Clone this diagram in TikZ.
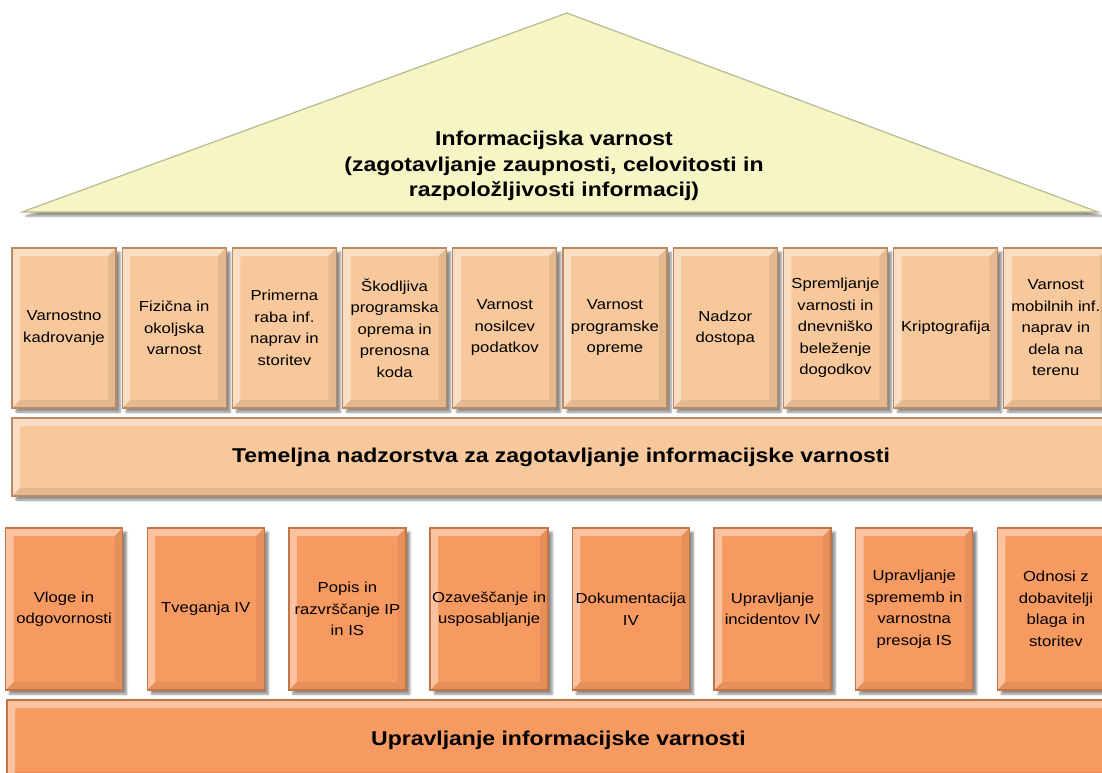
\documentclass[tikz,border=0pt]{standalone}
\usepackage{fontspec}
\setmainfont{Liberation Sans}
\newfontfamily\widesans[FakeStretch=1.15]{Liberation Sans}
\usetikzlibrary{shadows,shadows.blur}

\definecolor{roofyellow}{HTML}{F6F5C6}
\definecolor{roofline}{HTML}{B7BA8C}
\definecolor{peach}{HTML}{F7C89B}
\definecolor{peachline}{HTML}{B98A64}
\definecolor{carrot}{HTML}{F79A61}
\definecolor{carrotline}{HTML}{C27648}

% lighter band on top/left, darker band on bottom/right
\newcommand\bevel{%
  \fill[white,opacity=.4] (path picture bounding box.south west)
    -- (path picture bounding box.north west)
    -- (path picture bounding box.north east)
    -- ([xshift=-8pt,yshift=-8pt]path picture bounding box.north east)
    -- ([xshift=8pt,yshift=-8pt]path picture bounding box.north west)
    -- ([xshift=8pt,yshift=8pt]path picture bounding box.south west) -- cycle;
  \fill[black,opacity=.07] (path picture bounding box.south west)
    -- (path picture bounding box.south east)
    -- (path picture bounding box.north east)
    -- ([xshift=-8pt,yshift=-8pt]path picture bounding box.north east)
    -- ([xshift=-8pt,yshift=8pt]path picture bounding box.south east)
    -- ([xshift=8pt,yshift=8pt]path picture bounding box.south west) -- cycle;}

\begin{document}
\begin{tikzpicture}[x=1pt, y=-1pt,
    shade/.style = {blur shadow={shadow xshift=4pt, shadow yshift=-4pt,
                    shadow opacity=45, shadow blur steps=5}},
    roof/.style  = {draw=roofline, line width=1.2pt, fill=roofyellow, shade},
    ctrl/.style  = {draw=peachline, line width=1.3pt, fill=peach, shade,
                    minimum width=104pt, minimum height=160pt, inner sep=2pt,
                    align=center, font=\widesans\fontsize{14.5}{21.5}\selectfont,
                    path picture=\bevel},
    proc/.style  = {ctrl, draw=carrotline, fill=carrot,
                    minimum width=117pt, minimum height=162pt},
    bar/.style   = {ctrl, minimum height=78pt, minimum width=1098pt,
                    font=\widesans\fontsize{20}{24}\selectfont\bfseries},
    floor/.style = {bar, draw=carrotline, fill=carrot, minimum width=1103pt,
                    minimum height=80pt}]
  \useasboundingbox (0,0) rectangle (1102,773);
  \clip (0,0) rectangle (1102,773);

  % roof
  \draw[roof] (22,212) -- (567,13) -- (1098,212) -- cycle;
  \node[align=center, font=\widesans\fontsize{20}{25.5}\selectfont\bfseries] (goal) at (554,166)
    {Informacijska varnost\\(zagotavljanje zaupnosti, celovitosti in\\razpoložljivosti informacij)};

  % controls
  \node[ctrl] (c1) at (64,328) {Varnostno\\kadrovanje};
  \node[ctrl] (c2) at (174.2,328) {Fizična in\\okoljska\\varnost};
  \node[ctrl] (c3) at (284.4,328) {Primerna\\raba inf.\\naprav in\\storitev};
  \node[ctrl] (c4) at (394.6,328) {Škodljiva\\programska\\oprema in\\prenosna\\koda};
  \node[ctrl] (c5) at (504.8,328) {Varnost\\nosilcev\\podatkov};
  \node[ctrl] (c6) at (615,328) {Varnost\\programske\\opreme};
  \node[ctrl] (c7) at (725.2,328) {Nadzor\\dostopa};
  \node[ctrl] (c8) at (835.4,328) {Spremljanje\\varnosti in\\dnevniško\\beleženje\\dogodkov};
  \node[ctrl] (c9) at (945.6,328) {Kriptografija};
  \node[ctrl] (c10) at (1055.8,328) {Varnost\\mobilnih inf.\\naprav in\\dela na\\terenu};

  \node[bar] (base) at (561,457) {Temeljna nadzorstva za zagotavljanje informacijske varnosti};

  % management
  \node[proc] (p1) at (64,609) {Vloge in\\odgovornosti};
  \node[proc] (p2) at (205.7,609) {Tveganja IV};
  \node[proc] (p3) at (347.4,609) {Popis in\\razvrščanje IP\\in IS};
  \node[proc] (p4) at (489.1,609) {Ozaveščanje in\\usposabljanje};
  \node[proc] (p5) at (630.8,609) {Dokumentacija\\IV};
  \node[proc] (p6) at (772.5,609) {Upravljanje\\incidentov IV};
  \node[proc] (p7) at (914.2,609) {Upravljanje\\sprememb in\\varnostna\\presoja IS};
  \node[proc] (p8) at (1055.9,609) {Odnosi z\\dobavitelji\\blaga in\\storitev};

  \node[floor] (ground) at (558.5,740) {Upravljanje informacijske varnosti};
\end{tikzpicture}
\end{document}
